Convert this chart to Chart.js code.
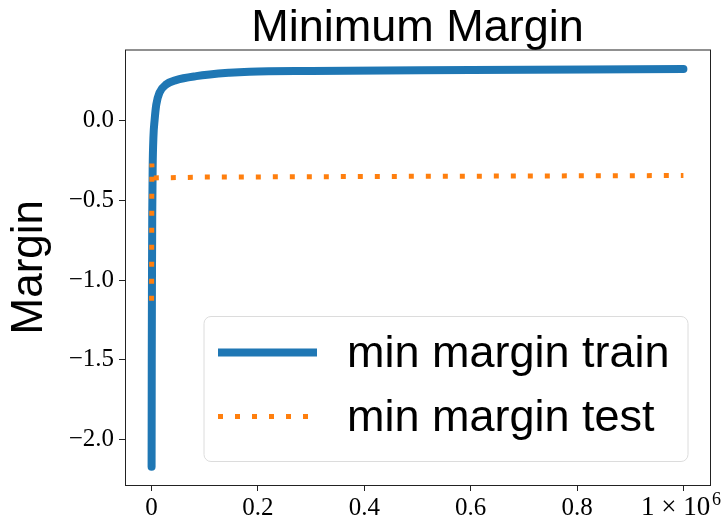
<!DOCTYPE html>
<html>
<head>
<meta charset="UTF-8">
<title>Minimum Margin</title>
<style>
  body { margin: 0; background: #fff; }
  #wrap { width: 722px; height: 521px; }
</style>
</head>
<body>
<div id="wrap"><canvas id="myChart" width="722" height="521"></canvas></div>
<script src="https://cdn.jsdelivr.net/npm/chart.js@4.4.0/dist/chart.umd.min.js"></script>
<script>
// data
var stepsTrain = [0, 300, 700, 1200, 2000, 3500, 5600, 8800, 15000, 27600, 46000, 84000, 146000, 184000, 300000, 600000, 1000000];
var marginTrain = [-2.17, -1.5, -1.0, -0.6, -0.3, -0.1, 0.0, 0.10, 0.175, 0.226, 0.253, 0.278, 0.299, 0.306, 0.311, 0.316, 0.322];
var stepsTest = [0, 500, 1500, 100000, 500000, 1000000];
var marginTest = [-1.13, -0.27, -0.36, -0.355, -0.35, -0.345];

var xTicks = [0, 200000, 400000, 600000, 800000, 1000000];
var xTickLabels = ['0', '0.2', '0.4', '0.6', '0.8', ''];
var yTicks = [-2.0, -1.5, -1.0, -0.5, 0.0];
var yTickLabels = ['\u22122.0', '\u22121.5', '\u22121.0', '\u22120.5', '0.0'];
var seriesNames = ['min margin train', 'min margin test'];

function pts(xs, ys) {
  return xs.map(function (x, i) { return { x: x, y: ys[i] }; });
}

var serif = '"Liberation Serif", "DejaVu Serif", serif';
var sans = '"Liberation Sans", Arial, sans-serif';

// frame, legend box and the x offset text
var extras = {
  id: 'extras',
  afterDraw: function (chart) {
    var ctx = chart.ctx, a = chart.chartArea;
    ctx.save();
    ctx.strokeStyle = '#222';
    ctx.lineWidth = 1;
    ctx.strokeRect(a.left + 0.5, a.top + 0.5, a.right - a.left, a.bottom - a.top);

    // legend
    var lx = a.left + 79, ly = a.top + 267, lw = 484, lh = 145;
    ctx.beginPath();
    ctx.roundRect(lx, ly, lw, lh, 7);
    ctx.fillStyle = 'rgba(255,255,255,0.8)';
    ctx.fill();
    ctx.strokeStyle = '#dcdcdc';
    ctx.stroke();
    chart.data.datasets.forEach(function (ds, i) {
      var cy = ly + 36 + i * 64;
      ctx.beginPath();
      ctx.strokeStyle = ds.borderColor;
      ctx.lineWidth = ds.borderWidth;
      ctx.lineCap = 'butt';
      ctx.setLineDash(ds.borderDash || []);
      ctx.moveTo(lx + 14, cy);
      ctx.lineTo(lx + 113, cy);
      ctx.stroke();
      ctx.setLineDash([]);
      ctx.fillStyle = '#000';
      ctx.font = '45px ' + sans;
      ctx.textBaseline = 'middle';
      ctx.textAlign = 'left';
      ctx.fillText(seriesNames[i], lx + 143, cy + 2);
    });

    // offset text of the x axis
    ctx.fillStyle = '#000';
    ctx.textBaseline = 'alphabetic';
    ctx.textAlign = 'left';
    ctx.font = '27px ' + serif;
    ctx.fillText('1 \u00d7 10', a.right - 69, a.bottom + 30);
    ctx.font = '18px ' + serif;
    ctx.fillText('6', a.right + 2, a.bottom + 20);
    ctx.restore();
  }
};

var ctx = document.getElementById('myChart').getContext('2d');
var chart = new Chart(ctx, {
  type: 'scatter',
  data: {
    datasets: [
      {
        label: seriesNames[0],
        data: pts(stepsTrain, marginTrain),
        showLine: true,
        borderColor: '#1f77b4',
        backgroundColor: '#1f77b4',
        borderWidth: 8,
        borderCapStyle: 'round',
        borderJoinStyle: 'round',
        cubicInterpolationMode: 'monotone',
        pointRadius: 0,
        order: 1
      },
      {
        label: seriesNames[1],
        data: pts(stepsTest, marginTest),
        showLine: true,
        borderColor: '#ff7f0e',
        backgroundColor: '#ff7f0e',
        borderWidth: 5,
        borderDash: [5, 12],
        borderCapStyle: 'butt',
        pointRadius: 0,
        order: 0
      }
    ]
  },
  plugins: [extras],
  options: {
    responsive: false,
    animation: false,
    layout: { padding: { left: 0, right: 12, top: 0, bottom: 0 } },
    plugins: {
      legend: { display: false },
      tooltip: { enabled: false },
      title: {
        display: true,
        text: 'Minimum Margin',
        color: '#000',
        fullSize: false,
        font: { family: sans, size: 45, weight: 'normal', lineHeight: 0.5 },
        padding: { top: 17, bottom: 10 }
      }
    },
    scales: {
      x: {
        type: 'linear',
        min: -50000,
        max: 1050000,
        afterBuildTicks: function (s) { s.ticks = xTicks.map(function (v) { return { value: v }; }); },
        afterFit: function (s) { s.height = 36; },
        grid: { drawOnChartArea: false, drawTicks: true, tickLength: 6, tickColor: '#222' },
        border: { display: false },
        ticks: {
          color: '#000',
          padding: 2,
          maxRotation: 0,
          autoSkip: false,
          font: { family: serif, size: 25 },
          callback: function (v) { var i = xTicks.indexOf(v); return i < 0 ? '' : xTickLabels[i]; }
        }
      },
      y: {
        min: -2.285,
        max: 0.445,
        afterBuildTicks: function (s) { s.ticks = yTicks.map(function (v) { return { value: v }; }); },
        afterFit: function (s) { s.width = 125; },
        grid: { drawOnChartArea: false, drawTicks: true, tickLength: 6, tickColor: '#222' },
        border: { display: false },
        title: {
          display: true,
          text: 'Margin',
          color: '#000',
          font: { family: sans, size: 44, lineHeight: 1 },
          padding: { top: 8, bottom: 0 }
        },
        ticks: {
          color: '#000',
          padding: 5,
          font: { family: serif, size: 25 },
          callback: function (v) { var i = yTicks.indexOf(v); return i < 0 ? '' : yTickLabels[i]; }
        }
      }
    }
  }
});
</script>
</body>
</html>
